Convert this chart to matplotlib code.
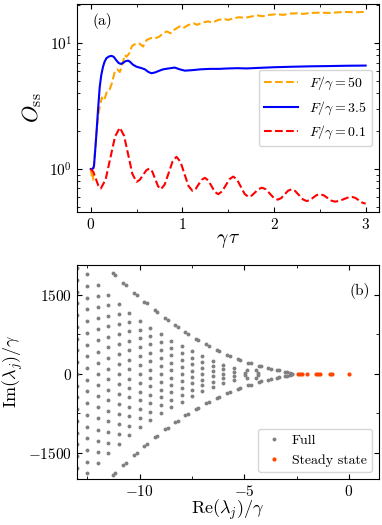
import numpy as np
import matplotlib
matplotlib.use("Agg")
import matplotlib.pyplot as plt
from matplotlib.ticker import MultipleLocator, AutoMinorLocator

plt.rcParams['mathtext.fontset'] = 'cm'
plt.rcParams['font.family'] = 'serif'
plt.rcParams['font.serif'] = ['cmr10', 'DejaVu Serif']
plt.rcParams['axes.formatter.use_mathtext'] = True
plt.rcParams['axes.unicode_minus'] = True

# ---- panel (a): O_ss vs gamma*tau ----
tau_50 = [0, 0.015, 0.025, 0.04, 0.062, 0.08, 0.098, 0.12, 0.135, 0.153, 0.18, 0.207,
          0.23, 0.262, 0.29, 0.317, 0.345, 0.371, 0.39, 0.42, 0.45, 0.5, 0.535, 0.57,
          0.61, 0.66, 0.70, 0.75, 0.79, 0.83, 0.87, 0.92, 0.97, 1.01, 1.06, 1.12, 1.16,
          1.22, 1.28, 1.33, 1.39, 1.45, 1.5, 1.56, 1.62, 1.68, 1.75, 1.82, 1.88, 1.95,
          2.02, 2.1, 2.18, 2.25, 2.32, 2.4, 2.5, 2.6, 2.7, 2.8, 2.9, 3.0]
oss_50 = [1.0, 0.85, 0.82, 1.2, 1.92, 2.6, 3.13, 3.7, 3.5, 3.65, 4.2, 4.3,
          4.8, 5.94, 6.2, 5.9, 6.8, 8.07, 7.8, 8.3, 9.5, 10.0, 9.9, 9.4,
          10.6, 11.0, 10.9, 11.3, 12.0, 12.4, 12.0, 12.9, 13.6, 13.2, 13.9, 14.4, 14.0,
          14.6, 14.9, 14.6, 15.3, 15.6, 15.3, 15.8, 16.1, 15.9, 16.3, 16.6, 16.4, 16.8,
          17.0, 16.8, 17.2, 17.3, 17.1, 17.4, 17.5, 17.4, 17.6, 17.7, 17.6, 17.8]

tau_35 = [0, 0.02, 0.035, 0.05, 0.062, 0.08, 0.098, 0.115, 0.134, 0.15, 0.171, 0.2,
          0.226, 0.25, 0.28, 0.305, 0.328, 0.35, 0.38, 0.408, 0.43, 0.46, 0.5, 0.55,
          0.59, 0.63, 0.663, 0.7, 0.75, 0.79, 0.85, 0.917, 0.97, 1.026, 1.1, 1.2, 1.3,
          1.4, 1.5, 1.6, 1.7, 1.8, 2.0, 2.2, 2.4, 2.6, 2.8, 3.0]
oss_35 = [1.0, 1.0, 1.05, 1.45, 1.92, 3.0, 4.5, 5.6, 6.5, 7.1, 7.6, 7.85,
          7.93, 7.8, 7.3, 6.95, 6.84, 6.95, 7.2, 7.27, 7.1, 6.75, 6.5, 6.35,
          6.2, 5.9, 5.77, 5.85, 6.05, 6.2, 6.3, 6.4, 6.2, 6.05, 6.1, 6.2, 6.25,
          6.25, 6.3, 6.33, 6.3, 6.35, 6.44, 6.5, 6.55, 6.58, 6.62, 6.64]

tau_01 = [0, 0.0275, 0.055, 0.0825, 0.11, 0.162, 0.2135, 0.265, 0.317, 0.363, 0.4085,
          0.454, 0.50, 0.535, 0.57, 0.605, 0.64, 0.671, 0.7025, 0.734, 0.765, 0.8075,
          0.85, 0.8925, 0.935, 0.979, 1.0225, 1.066, 1.11, 1.144, 1.1775, 1.211, 1.245,
          1.281, 1.3175, 1.354, 1.39, 1.431, 1.4725, 1.514, 1.555, 1.596, 1.6375, 1.679,
          1.72, 1.7575, 1.795, 1.8325, 1.87, 1.9125, 1.955, 1.9975, 2.04, 2.0775, 2.115,
          2.1525, 2.19, 2.231, 2.2725, 2.314, 2.355, 2.391, 2.4275, 2.464, 2.5, 2.541,
          2.5825, 2.624, 2.665, 2.711, 2.7575, 2.804, 2.85, 2.8875, 2.925, 2.9625, 3.0]
oss_01 = [1.0, 0.949, 0.837, 0.738, 0.70, 0.823, 1.22, 1.81, 2.13, 1.84, 1.30,
          0.914, 0.79, 0.82, 0.893, 0.974, 1.01, 0.955, 0.835, 0.73, 0.69, 0.753,
          0.929, 1.146, 1.25, 1.14, 0.915, 0.734, 0.67, 0.693, 0.755, 0.821, 0.85,
          0.814, 0.732, 0.658, 0.63, 0.661, 0.74, 0.83, 0.87, 0.824, 0.723, 0.634,
          0.60, 0.615, 0.653, 0.693, 0.71, 0.688, 0.636, 0.589, 0.57, 0.586, 0.627,
          0.671, 0.69, 0.668, 0.619, 0.574, 0.556, 0.566, 0.592, 0.619, 0.63, 0.618,
          0.589, 0.561, 0.55, 0.557, 0.574, 0.592, 0.60, 0.589, 0.564, 0.54, 0.53]

# ---- panel (b): Liouvillian spectrum (upper half, mirrored) ----
# columns of eigenvalues: real part, number of points, largest |Im|
col_re = [-13.0, -12.5, -12.0, -11.5, -11.0, -10.5, -10.0, -9.5, -9.0, -8.5, -8.0,
          -7.5, -7.0, -6.5, -6.0, -5.5]
col_n = [19, 18, 17, 16, 15, 14, 13, 12, 11, 10, 9, 8, 7, 6, 5, 4]
col_top = [2000, 1884, 1690, 1500, 1325, 1160, 1005, 875, 745, 630, 532,
           425, 330, 250, 170, 110]
# outer edge branch
edge_re = [-11.29, -11.17, -10.78, -10.66, -10.26, -10.14, -9.79, -9.67, -9.29, -9.17,
           -8.78, -8.66, -8.30, -8.18, -7.83, -7.71, -7.31, -7.19, -6.81, -6.69,
           -6.31, -6.19, -5.81, -5.69, -5.31, -5.19, -4.81, -4.69, -4.31, -4.19,
           -3.86, -3.74, -3.44, -3.32, -3.05, -2.95, -2.8, -2.7]
edge_im = [1905, 1867, 1720, 1686, 1530, 1496, 1363, 1333, 1203, 1177,
           1052, 1026, 918, 894, 785, 761, 667, 643, 556, 534,
           452, 434, 360, 344, 282, 268, 214, 202, 156, 144,
           110, 100, 75, 65, 42, 35, 15, 5]
# small inner arcs
inner_re = [-4.85, -4.95, -4.45, -4.35]
inner_im = [75, 25, 70, 25]
# steady-state eigenvalues
ss_re = [-2.42, -2.33, -2.22, -1.98, -1.56, -1.47, -1.38, -0.92, -0.80, 0.0]
ss_im = [0, 0, 0, 0, 0, 0, 0, 0, 0, 0]

fig = plt.figure(figsize=(3.82, 5.25), dpi=100)
ax1 = fig.add_axes([0.2016, 0.5962, 0.7904, 0.3962])
ax2 = fig.add_axes([0.2016, 0.0876, 0.7904, 0.4082])

ax1.plot(tau_50, oss_50, color='orange', ls='--', lw=1.5, label=r'$F/\gamma=50$')
ax1.plot(tau_35, oss_35, color='blue', ls='-', lw=1.5, label=r'$F/\gamma=3.5$')
ax1.plot(tau_01, oss_01, color='red', ls='--', lw=1.5, label=r'$F/\gamma=0.1$')
ax1.set_yscale('log')
ax1.set_xlim(-0.15, 3.145)
ax1.set_ylim(0.455, 20.5)
ax1.xaxis.set_major_locator(MultipleLocator(1))
ax1.xaxis.set_minor_locator(MultipleLocator(0.5))
ax1.set_xlabel(r'$\gamma\,\tau$', fontsize=14, labelpad=0)
ax1.set_ylabel(r'$O_{\rm ss}$', fontsize=16, labelpad=4)
ax1.legend(loc='center right', fontsize=10, handlelength=2.4)
ax1.text(0.05, 0.955, '(a)', transform=ax1.transAxes, ha='left', va='top', fontsize=11)

gx, gy = [], []
for re, n, top in zip(col_re, col_n, col_top):
    gx += [re] * n
    gy += list(np.linspace(-top, top, n))
for re, im in zip(edge_re + inner_re, edge_im + inner_im):
    gx += [re, re]
    gy += [im, -im]

ax2.plot(gx, gy, 'o', color='gray', ms=2.8, mew=0, label='Full')
ax2.plot(ss_re, ss_im, 'o', color='orangered', ms=3.0, mew=0, label='Steady state')
ax2.set_xlim(-13.0, 1.44)
ax2.set_ylim(-1990, 2065)
ax2.xaxis.set_major_locator(MultipleLocator(5))
ax2.xaxis.set_minor_locator(AutoMinorLocator(2))
ax2.yaxis.set_major_locator(MultipleLocator(1500))
ax2.yaxis.set_minor_locator(AutoMinorLocator(2))
ax2.set_xlabel(r'${\rm Re}(\lambda_j)/\gamma$', fontsize=13, labelpad=-1)
ax2.set_ylabel(r'${\rm Im}(\lambda_j)/\gamma$', fontsize=13, labelpad=2)
ax2.legend(loc='lower right', fontsize=10, handlelength=1.5, handletextpad=0.5)
ax2.text(0.97, 0.915, '(b)', transform=ax2.transAxes, ha='right', va='top', fontsize=11)

for ax in (ax1, ax2):
    ax.tick_params(which='both', direction='in', top=True, right=True, labelsize=11)
    ax.tick_params(which='major', length=3.5)
    ax.tick_params(which='minor', length=2)

fig.savefig('out.png', dpi=100)
